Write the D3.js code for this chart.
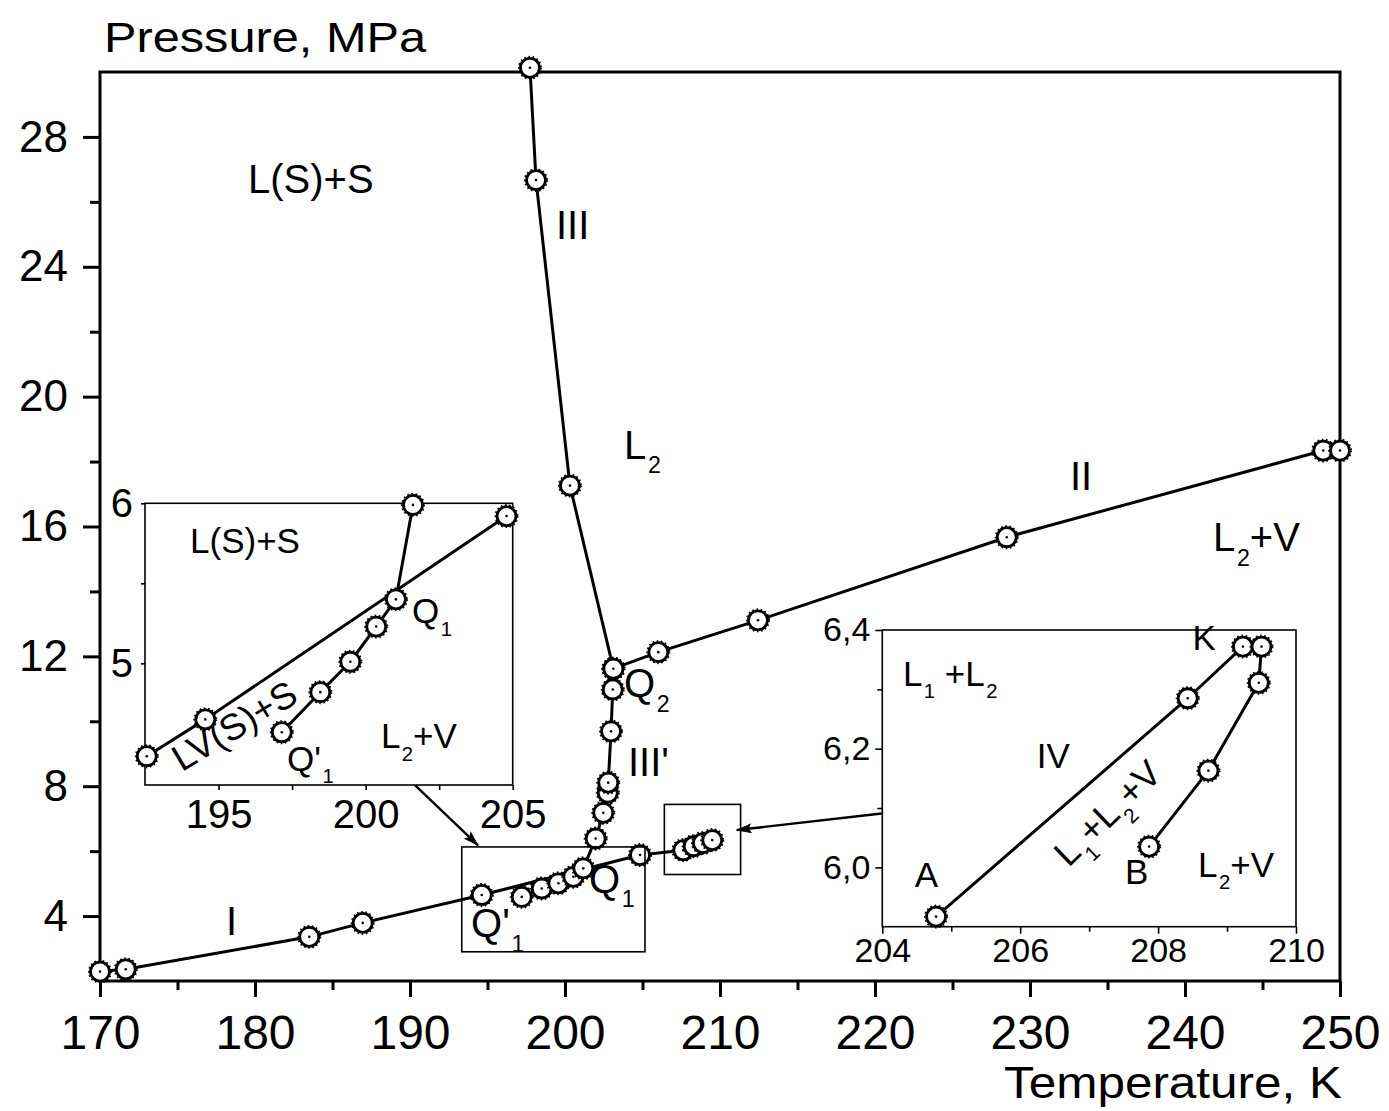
<!DOCTYPE html>
<html><head><meta charset="utf-8">
<script src="https://cdn.jsdelivr.net/npm/d3@7"></script>
<style>
body{margin:0;background:#fff}
svg{display:block;font-family:"Liberation Sans",Arial,sans-serif}
</style></head><body>
<svg id="c" width="1389" height="1111"></svg>
<script>
// ---------- main chart data ----------
const xTicksMain = [170,180,190,200,210,220,230,240,250];
const xMinorMain = [175,185,195,205,215,225,235,245];
const yTicksMain = [4,8,12,16,20,24,28];
const yMinorMain = [6,10,14,18,22,26];

// curve I (S-L-V line continuing to the L1+L2+V region)
const curveI_T = [170,171.66,183.5,186.95,194.63,204.84,207.63,208.3,208.9,209.5];
const curveI_P = [2.29,2.36,3.36,3.79,4.65,5.88,6.03,6.15,6.25,6.34];
// Q'1 -> Q1 -> III' -> Q2 -> III
const curveIII_T = [197.21,198.5,199.57,200.54,201.18,201.98,202.47,202.76,202.79,202.97,203.08,203.12,200.32,198.13,197.74];
const curveIII_P = [4.59,4.85,5.01,5.21,5.47,6.39,7.18,7.80,8.11,9.69,10.98,11.62,17.26,26.67,30.13];
// curve II
const curveII_T = [203.12,206.02,212.45,228.5,248.92,250];
const curveII_P = [11.62,12.13,13.11,15.67,18.34,18.34];

// ---------- inset 1 (left) ----------
const in1XTicks = [195,200,205];
const in1XMinor = [197.5,202.5];
const in1YTicks = [5,6];
const in1YMinor = [5.5];
const in1Upper_T = [192.56,194.55,204.79];
const in1Upper_P = [4.42,4.65,5.92];
const in1Lower_T = [197.15,198.46,199.48,200.36,201.03,201.61];
const in1Lower_P = [4.57,4.82,5.01,5.23,5.40,5.99];

// ---------- inset 2 (right) ----------
const in2XTicks = [204,206,208,210];
const in2XMinor = [205,207,209];
const in2YTicks = [6.0,6.2,6.4];
const in2YMinor = [6.1,6.3];
const in2_T = [204.78,208.43,209.23,209.5,209.46,208.73,207.87];
const in2_P = [5.917,6.285,6.372,6.372,6.311,6.163,6.035];

// zoom boxes on main chart (T range, P range)
const box1 = {T:[193.34,205.16], P:[2.9,6.13]};
const box2 = {T:[206.41,211.33], P:[5.28,7.44]};

// ---------- layout ----------
const M = {left:100, right:1340, top:72, bottom:981};
const I1 = {left:145, right:512.7, top:503.3, bottom:785};
const I2 = {left:882.3, right:1296, top:630, bottom:926.7};

const svg = d3.select("#c");
const x = d3.scaleLinear([170,250],[M.left,M.right]);
const y = d3.scaleLinear([2,30],[M.bottom,M.top]);
const x1 = d3.scaleLinear([192.5,205],[I1.left,I1.right]);
const y1 = d3.scaleLinear([4.24,6],[I1.bottom,I1.top]);
const x2 = d3.scaleLinear([204,210],[I2.left,I2.right]);
const y2 = d3.scaleLinear([5.9,6.4],[I2.bottom,I2.top]);

svg.append("defs").append("marker").attr("id","arr")
  .attr("viewBox","0 0 16 10").attr("refX",15).attr("refY",5)
  .attr("markerWidth",16).attr("markerHeight",10).attr("markerUnits","userSpaceOnUse")
  .attr("orient","auto")
  .append("path").attr("d","M0,0 L16,5 L0,10 L3,5 z").attr("fill","#000");

function styleAxis(g, sw, fs){
  g.select(".domain").remove();
  g.selectAll(".tick line").attr("stroke","#000").attr("stroke-width",sw);
  g.selectAll(".tick text").attr("fill","#000").attr("font-size",fs)
   .attr("font-family","'Liberation Sans',Arial,sans-serif");
  g.attr("font-family",null).attr("font-size",null);
}

function panel(g, xs, ys, o){
  const [x0,x1_] = xs.range(), [y0,y1_] = ys.range();
  g.append("rect").attr("x",x0).attr("y",y1_).attr("width",x1_-x0).attr("height",y0-y1_)
   .attr("fill",o.fill||"none").attr("stroke","#000").attr("stroke-width",o.frame);
  const bx = g.append("g").attr("transform",`translate(0,${y0})`)
    .call(d3.axisBottom(xs).tickValues(o.xt).tickSize(o.xtl).tickPadding(o.xpad).tickSizeOuter(0).tickFormat(o.xf));
  styleAxis(bx,o.tw,o.xfs);
  const bm = g.append("g").attr("transform",`translate(0,${y0})`)
    .call(d3.axisBottom(xs).tickValues(o.xm).tickSize(o.xml).tickSizeOuter(0).tickFormat(""));
  styleAxis(bm,o.tw,o.xfs);
  const ly = g.append("g").attr("transform",`translate(${x0},0)`)
    .call(d3.axisLeft(ys).tickValues(o.yt).tickSize(o.ytl).tickPadding(o.ypad).tickSizeOuter(0).tickFormat(o.yf));
  styleAxis(ly,o.tw,o.yfs);
  const lm = g.append("g").attr("transform",`translate(${x0},0)`)
    .call(d3.axisLeft(ys).tickValues(o.ym).tickSize(o.yml).tickSizeOuter(0).tickFormat(""));
  styleAxis(lm,o.tw,o.yfs);
}

function series(g, xs, ys, T, P, r){
  const pts = d3.zip(T,P);
  g.append("path").datum(pts)
   .attr("d", d3.line().x(d=>xs(d[0])).y(d=>ys(d[1])))
   .attr("fill","none").attr("stroke","#000").attr("stroke-width",3).attr("stroke-linejoin","round");
  const m = g.selectAll(null).data(pts).join("g")
   .attr("transform", d=>`translate(${xs(d[0])},${ys(d[1])})`);
  m.append("circle").attr("r",r).attr("fill","#fff").attr("stroke","#000").attr("stroke-width",2.8);
  m.append("circle").attr("r",r+1.6).attr("fill","none").attr("stroke","#000").attr("stroke-width",1.8).attr("stroke-dasharray","1.6,2.6");
  m.append("circle").attr("r",1.3).attr("fill","#000");
}

function rich(g, px, py, parts, size, angle, subScale, subDy){
  const t = g.append("text").attr("transform",`translate(${px},${py}) rotate(${angle||0})`)
    .attr("font-size",size).attr("fill","#000");
  let shifted = 0;
  const ss = subScale||0.58, sd = (subDy===undefined?0.36:subDy)*size;
  parts.forEach(([s,sub])=>{
    const ts = t.append("tspan").text(s);
    if(sub){ ts.attr("font-size",size*ss).attr("dy",sd-shifted).attr("dx",size*0.04); shifted = sd; }
    else { ts.attr("dy",-shifted); shifted = 0; }
  });
  return t;
}

// ---------- main panel ----------
const gMain = svg.append("g");
panel(gMain, x, y, {frame:3, tw:3, xt:xTicksMain, xm:xMinorMain, xtl:16, xml:9, xpad:18, xfs:48, xf:d3.format("d"),
  yt:yTicksMain, ym:yMinorMain, ytl:17, yml:10, ypad:15, yfs:44, yf:d3.format("d")});

series(gMain, x, y, curveI_T, curveI_P, 9.5);
series(gMain, x, y, curveII_T, curveII_P, 9.5);
series(gMain, x, y, curveIII_T, curveIII_P, 9.5);

// zoom boxes
[box1,box2].forEach(b=>{
  gMain.append("rect").attr("x",x(b.T[0])).attr("y",y(b.P[1]))
    .attr("width",x(b.T[1])-x(b.T[0])).attr("height",y(b.P[0])-y(b.P[1]))
    .attr("fill","none").attr("stroke","#000").attr("stroke-width",1.6);
});
// arrows (main data coordinates)
const arrows = [[[190.32,8.03],[194.39,6.18]],[[220.43,7.16],[211.08,6.65]]];
arrows.forEach(a=>{
  gMain.append("line").attr("x1",x(a[0][0])).attr("y1",y(a[0][1])).attr("x2",x(a[1][0])).attr("y2",y(a[1][1]))
   .attr("stroke","#000").attr("stroke-width",2.4).attr("marker-end","url(#arr)");
});

// axis titles
svg.append("text").attr("x",104).attr("y",52).attr("font-size",42).attr("fill","#000")
  .attr("textLength",322).attr("lengthAdjust","spacingAndGlyphs").text("Pressure, MPa");
svg.append("text").attr("x",1342).attr("y",1098).attr("font-size",44).attr("fill","#000")
  .attr("text-anchor","end").attr("textLength",338).attr("lengthAdjust","spacingAndGlyphs").text("Temperature, K");

// main labels [T, P, parts]
const mainLabels = [
  [179.55,26.28,[["L(S)+S"]]],
  [199.42,24.86,[["III"]]],
  [203.81,18.09,[["L"],["2",1]]],
  [203.81,10.74,[["Q"],["2",1]]],
  [204.06,8.31,[["III'"]]],
  [201.55,4.71,[["Q"],["1",1]]],
  [193.94,3.35,[["Q'"],["1",1]]],
  [178.13,3.42,[["I"]]],
  [232.58,17.11,[["II"]]],
  [241.81,15.23,[["L"],["2",1],["+V"]]]
];
mainLabels.forEach(l=>rich(gMain, x(l[0]), y(l[1]), l[2], 40));

// ---------- inset 1 ----------
const gI1 = svg.append("g");
panel(gI1, x1, y1, {fill:"#fff", frame:1.6, tw:1.6, xt:in1XTicks, xm:in1XMinor, xtl:5, xml:5, xpad:10, xfs:40, xf:d3.format("d"),
  yt:in1YTicks, ym:in1YMinor, ytl:4, yml:4, ypad:8, yfs:40, yf:d3.format("d")});
series(gI1, x1, y1, in1Upper_T, in1Upper_P, 9.5);
series(gI1, x1, y1, in1Lower_T, in1Lower_P, 9.5);
const in1Labels = [
  [194.03,5.69,[["L(S)+S"]]],
  [201.58,5.25,[["Q"],["1",1]]],
  [197.33,4.33,[["Q'"],["1",1]]],
  [200.52,4.47,[["L"],["2",1],["+V"]]]
];
in1Labels.forEach(l=>rich(gI1, x1(l[0]), y1(l[1]), l[2], 35));
rich(gI1, x1(193.75), y1(4.32), [["LV(S)+S"]], 37, -31);

// ---------- inset 2 ----------
const gI2 = svg.append("g");
const commaFmt = d=>d3.format(".1f")(d).replace(".",",");
panel(gI2, x2, y2, {fill:"#fff", frame:1.6, tw:1.6, xt:in2XTicks, xm:in2XMinor, xtl:7, xml:5, xpad:4, xfs:34, xf:d3.format("d"),
  yt:in2YTicks, ym:in2YMinor, ytl:7, yml:5, ypad:5, yfs:34, yf:commaFmt});
series(gI2, x2, y2, in2_T, in2_P, 9.5);
const in2Labels = [
  [204.3,6.306,[["L"],["1",1],[" +L"],["2",1]]],
  [208.5,6.366,[["K"]]],
  [206.24,6.167,[["IV"]]],
  [204.47,5.967,[["A"]]],
  [207.52,5.972,[["B"]]],
  [208.58,5.984,[["L"],["2",1],["+V"]]]
];
in2Labels.forEach(l=>rich(gI2, x2(l[0]), y2(l[1]), l[2], 35));
rich(gI2, x2(206.7), y2(5.999), [["L"],["1",1],["+L"],["2",1],["+V"]], 36, -44);
</script>
</body></html>
